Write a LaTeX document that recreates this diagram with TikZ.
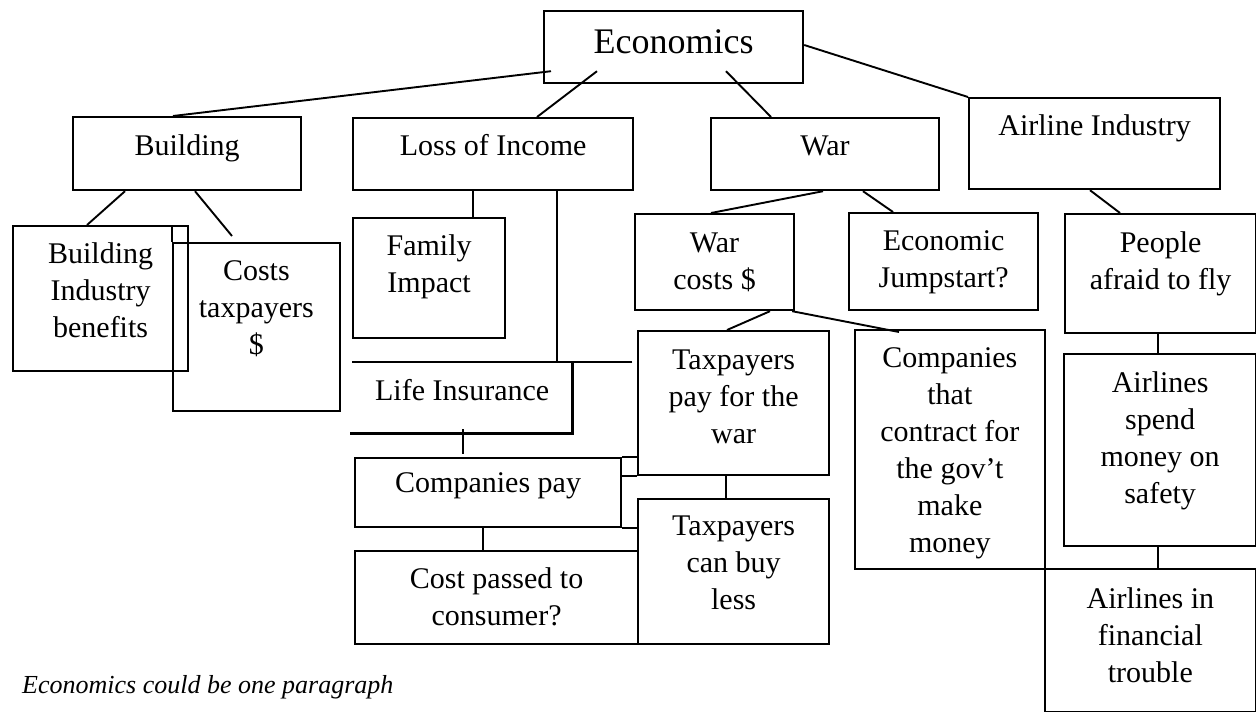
\documentclass[tikz,border=0pt]{standalone}
\usepackage{fontspec}
\setmainfont{Liberation Serif}
\usepackage{tikz}

\newcommand{\stacked}[1]{\begin{tabular}[t]{@{}c@{}}#1\end{tabular}}

\tikzset{
    box/.style={draw, line width=2.2pt, inner sep=0pt, anchor=north west},
    thinbox/.style={box, line width=1.7pt},
    boxtext/.style={anchor=base, inner sep=0pt, font=\fontsize{30}{37}\selectfont},
    connector/.style={line width=1.9pt}
}

\begin{document}
\begin{tikzpicture}[x=1pt, y=-1pt]

    \useasboundingbox (0,0) rectangle (1256,712);

    % Top
    \node[box, minimum width=259, minimum height=72] (econ) at (543,10) {};
    \node[boxtext, font=\fontsize{36}{43}\selectfont] (econ-t) at ([yshift=-43pt]econ.north) {Economics};

    % Second row
    \node[box, minimum width=228, minimum height=73] (bld) at (72,116) {};
    \node[box, minimum width=280, minimum height=72] (loi) at (352,117) {};
    \node[box, minimum width=228, minimum height=72] (war) at (710,117) {};
    \node[box, minimum width=251, minimum height=91] (air) at (968,97) {};
    \node[boxtext] (bld-t) at ([yshift=-39pt]bld.north) {Building};
    \node[boxtext] (loi-t) at ([yshift=-38pt]loi.north) {Loss of Income};
    \node[boxtext] (war-t) at ([yshift=-38pt]war.north) {War};
    \node[boxtext] (air-t) at ([yshift=-38pt]air.north) {Airline Industry};

    % Building branch
    \node[box, minimum width=175, minimum height=145] (bib) at (12,225) {};
    \node[thinbox, minimum width=167, minimum height=168] (cst) at (172,242) {};
    \node[boxtext] (bib-t) at ([yshift=-38pt]bib.north) {\stacked{Building\\Industry\\benefits}};
    \node[boxtext] (cst-t) at ([yshift=-38pt]cst.north) {\stacked{Costs\\taxpayers\\\$}};

    % Loss of income branch
    \node[box, minimum width=152, minimum height=120] (fam) at (352,217) {};
    \node[inner sep=0pt, anchor=north west, minimum width=220, minimum height=71] (li) at (352,362) {};
    \node[box, minimum width=266, minimum height=69] (cpay) at (354,457) {};
    \node[box, minimum width=283, minimum height=93] (cost) at (354,550) {};
    \node[boxtext] (fam-t) at ([yshift=-38pt]fam.north) {\stacked{Family\\Impact}};
    \node[boxtext] (li-t) at ([yshift=-38pt]li.north) {Life Insurance};
    \node[boxtext] (cpay-t) at ([yshift=-35pt]cpay.north) {Companies pay};
    \node[boxtext] (cost-t) at ([yshift=-38pt]cost.north) {\stacked{Cost passed to\\consumer?}};

    % War branch
    \node[box, minimum width=159, minimum height=96] (wcost) at (634,213) {};
    \node[box, minimum width=189, minimum height=97] (jump) at (848,212) {};
    \node[box, minimum width=191, minimum height=144] (tpay) at (637,330) {};
    \node[box, minimum width=191, minimum height=145] (tbuy) at (637,498) {};
    \node[thinbox, minimum width=190, minimum height=239] (cont) at (854,329) {};
    \node[boxtext] (wcost-t) at ([yshift=-39pt]wcost.north) {\stacked{War\\costs \$}};
    \node[boxtext] (jump-t) at ([yshift=-38pt]jump.north) {\stacked{Economic\\Jumpstart?}};
    \node[boxtext] (tpay-t) at ([yshift=-39pt]tpay.north) {\stacked{Taxpayers\\pay for the\\war}};
    \node[boxtext] (tbuy-t) at ([yshift=-37pt]tbuy.north) {\stacked{Taxpayers\\can buy\\less}};
    \node[boxtext] (cont-t) at ([yshift=-38pt]cont.north) {\stacked{Companies\\that\\contract for\\the gov’t\\make\\money}};

    % Airline branch
    \node[box, minimum width=191, minimum height=119] (ppl) at (1064,213) {};
    \node[box, minimum width=192, minimum height=192] (spend) at (1063,353) {};
    \node[thinbox, minimum width=211, minimum height=143] (trbl) at (1044,568) {};
    \node[boxtext] (ppl-t) at ([yshift=-39pt]ppl.north) {\stacked{People\\afraid to fly}};
    \node[boxtext] (spend-t) at ([yshift=-39pt]spend.north) {\stacked{Airlines\\spend\\money on\\safety}};
    \node[boxtext] (trbl-t) at ([yshift=-40pt]trbl.north) {\stacked{Airlines in\\financial\\trouble}};

    % Life insurance outline (open on the left)
    \draw[line width=2.2pt] ([xshift=60pt]li.north east) -- (li.north west);
    \draw[line width=2.2pt] (li.north east) -- (li.south east) -- ([xshift=-2pt]li.south west);

    % Connectors
    \draw[connector] ([shift={(8,-13)}]econ.south west) -- ([shift={(101,0)}]bld.north west);
    \draw[connector] ([shift={(54,-13)}]econ.south west) -- ([shift={(185,0)}]loi.north west);
    \draw[connector] ([shift={(183,-13)}]econ.south west) -- ([shift={(61,0)}]war.north west);
    \draw[connector] ([shift={(0,35)}]econ.north east) -- (air.north west);
    \draw[connector] ([shift={(53,0)}]bld.south west) -- ([shift={(75,0)}]bib.north west);
    \draw[connector] ([shift={(123,0)}]bld.south west) -- ([shift={(60,-6)}]cst.north west);
    \draw[connector] (cst.north west) -- (cst.north west |- bib.north);
    \draw[connector] ([shift={(121,0)}]loi.south west) -- ([shift={(121,0)}]fam.north west);
    \draw[connector] ([shift={(205,0)}]loi.south west) -- ([shift={(205,0)}]li.north west);
    \draw[connector] ([shift={(111,-4)}]li.south west) -- ([shift={(109,-3)}]cpay.north west);
    \draw[connector, line width=2.6pt] ([shift={(129,0)}]cpay.south west) -- ([shift={(129,0)}]cost.north west);
    \draw[connector] (cpay.north east) -- (cpay.north east -| tpay.west);
    \draw[connector] (tpay.south west) -- (tpay.south west -| cpay.east);
    \draw[connector] (cpay.south east) -- (cpay.south east -| tbuy.west);
    \draw[connector] ([shift={(113,0)}]war.south west) -- ([shift={(77,0)}]wcost.north west);
    \draw[connector] ([shift={(153,0)}]war.south west) -- ([shift={(45,0)}]jump.north west);
    \draw[connector] ([shift={(136,0)}]wcost.south west) -- ([shift={(90,0)}]tpay.north west);
    \draw[connector] ([shift={(-3,0)}]wcost.south east) -- ([shift={(45,3)}]cont.north west);
    \draw[connector] ([shift={(89,0)}]tpay.south west) -- ([shift={(89,0)}]tbuy.north west);
    \draw[connector] ([shift={(122,0)}]air.south west) -- ([shift={(56,0)}]ppl.north west);
    \draw[connector, line width=1.6pt] ([shift={(94,0)}]ppl.south west) -- ([shift={(95,0)}]spend.north west);
    \draw[connector, line width=1.6pt] ([shift={(95,0)}]spend.south west) -- ([shift={(114,0)}]trbl.north west);

    % Note
    \node[anchor=base west, inner sep=0pt, font=\fontsize{26}{31}\selectfont\itshape] (note) at (22,693) {Economics could be one paragraph};

\end{tikzpicture}
\end{document}
